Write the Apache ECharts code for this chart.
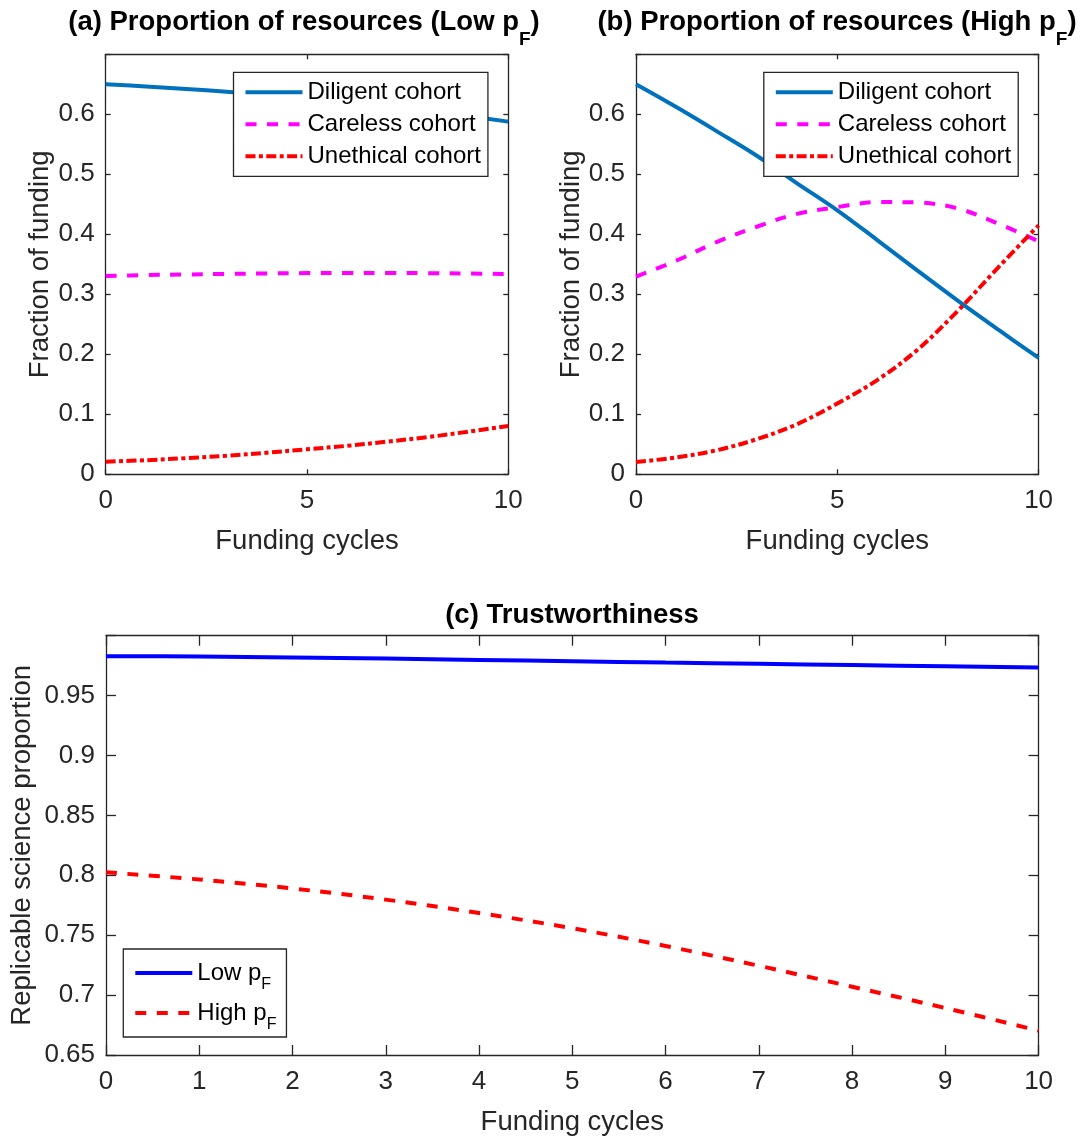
<!DOCTYPE html>
<html>
<head>
<meta charset="utf-8">
<script src="https://cdn.jsdelivr.net/npm/echarts@6/dist/echarts.min.js"></script>
<style>html,body{margin:0;padding:0;background:#fff}#chart{width:1080px;height:1138px}</style>
</head>
<body>
<div id="chart"></div>
<script>
// ---------------- data ----------------
const cycles = [0, 1, 2, 3, 4, 5, 6, 7, 8, 9, 10];

// (a) Low pF
const lowDiligent  = [0.650, 0.6464, 0.6422, 0.6375, 0.6322, 0.6263, 0.6198, 0.6127, 0.6050, 0.5968, 0.5878];
const lowCareless  = [0.3305, 0.332, 0.333, 0.334, 0.3348, 0.3353, 0.3355, 0.3355, 0.3352, 0.3346, 0.3338];
const lowUnethical = [0.021, 0.0235, 0.027, 0.031, 0.036, 0.0417, 0.0475, 0.0545, 0.062, 0.071, 0.0805];

// (b) High pF
const highDiligent  = [0.650, 0.612, 0.572, 0.531, 0.485, 0.440, 0.390, 0.339, 0.289, 0.241, 0.194];
const highCareless  = [0.3296, 0.356, 0.387, 0.4126, 0.434, 0.4454, 0.4538, 0.453, 0.443, 0.4176, 0.3886];
const highUnethical = [0.0206, 0.028, 0.040, 0.0585, 0.0835, 0.118, 0.1575, 0.208, 0.273, 0.345, 0.415];

// (c) Trustworthiness
const trustLow  = [0.9829, 0.9826, 0.9818, 0.9809, 0.9798, 0.9787, 0.9776, 0.9766, 0.9755, 0.9745, 0.9734];
const trustHigh = [0.8025, 0.7965, 0.789, 0.7797, 0.7685, 0.7558, 0.741, 0.7245, 0.707, 0.6892, 0.6703];

// tick labels
const xTicksAB = [0, 5, 10];
const yTicksAB = [0, 0.1, 0.2, 0.3, 0.4, 0.5, 0.6];
const xTicksC  = [0, 1, 2, 3, 4, 5, 6, 7, 8, 9, 10];
const yTicksC  = [0.65, 0.7, 0.75, 0.8, 0.85, 0.9, 0.95];

// ---------------- styling ----------------
const FONT = "'Liberation Sans', Arial, Helvetica, sans-serif";
const AX = '#262626';
const C_DIL = '#0072BD', C_CARE = '#FF00FF', C_UNE = '#FF0000', C_LOW = '#0000FF', C_HIGH = '#FF0000';
const LW = 4;
const DASH = [11, 10.5];
const DASHDOT = [10, 3.4, 4, 3.4];

function pairs(xs, ys) { return xs.map((x, i) => [x, ys[i]]); }
function fmt(ticks) {
  return function (v) {
    for (const t of ticks) { if (Math.abs(t - v) < 1e-7) return String(t); }
    return '';
  };
}

const grids = [
  { left: 105.7, top: 54.3, width: 402.6, height: 420 },
  { left: 636,   top: 54.3, width: 402.6, height: 420 },
  { left: 105.7, top: 635.7, width: 932.9, height: 419.3 }
];

function baseAxis(gi, min, max, interval, tickLen) {
  return {
    gridIndex: gi, type: 'value', min: min, max: max, interval: interval,
    splitLine: { show: false },
    axisLine: { show: true, onZero: false, lineStyle: { color: AX, width: 1.3 } },
    axisTick: { show: true, inside: true, length: tickLen, lineStyle: { color: AX, width: 1.3 } }
  };
}
function xAxes(gi, min, max, interval, ticks, tickLen, name) {
  return [
    Object.assign(baseAxis(gi, min, max, interval, tickLen), {
      position: 'bottom',
      axisLabel: { show: true, formatter: fmt(ticks), fontSize: 26, color: AX, fontFamily: FONT, margin: 14, showMinLabel: true, showMaxLabel: true, hideOverlap: false },
      name: name, nameLocation: 'middle', nameGap: 53, nameMoveOverlap: false,
      nameTextStyle: { fontSize: 27.5, color: AX, fontFamily: FONT }
    }),
    Object.assign(baseAxis(gi, min, max, interval, tickLen), { position: 'top', axisLabel: { show: false } })
  ];
}
function yAxes(gi, min, max, interval, ticks, tickLen, name, gap) {
  return [
    Object.assign(baseAxis(gi, min, max, interval, tickLen), {
      position: 'left',
      axisLabel: { show: true, formatter: fmt(ticks), fontSize: 26, color: AX, fontFamily: FONT, margin: 11, showMinLabel: true, showMaxLabel: true, hideOverlap: false },
      name: name, nameLocation: 'middle', nameGap: gap, nameMoveOverlap: false,
      nameTextStyle: { fontSize: 27.5, color: AX, fontFamily: FONT }
    }),
    Object.assign(baseAxis(gi, min, max, interval, tickLen), { position: 'right', axisLabel: { show: false } })
  ];
}

function line(name, xi, yi, xs, ys, color, dash) {
  return {
    name: name, type: 'line', xAxisIndex: xi, yAxisIndex: yi,
    data: pairs(xs, ys), smooth: 0.35, symbol: 'none', showSymbol: false,
    lineStyle: { color: color, width: LW, type: dash || 'solid', cap: 'butt' },
    itemStyle: { color: color },
    emphasis: { disabled: true }
  };
}

const subRichTitle = { sub: { fontSize: 19, fontWeight: 'bold', fontFamily: FONT, color: '#000', lineHeight: 20, padding: [35, 0, 0, 0] } };
function titleAt(text, cx, cy) {
  return {
    text: text, left: cx, top: cy, textAlign: 'center', textVerticalAlign: 'middle', padding: 0,
    textStyle: { fontSize: 27.5, fontWeight: 'bold', color: '#000', fontFamily: FONT, lineHeight: 28, rich: subRichTitle }
  };
}

const legendText = { fontSize: 24, color: '#000', fontFamily: FONT, lineHeight: 32 };
const legendBase = {
  orient: 'vertical', itemWidth: 57, itemHeight: 0.1, itemGap: 0, selectedMode: false,
  borderColor: AX, borderWidth: 1.3, backgroundColor: '#fff', borderRadius: 0,
  itemStyle: { color: 'rgba(0,0,0,0)', borderWidth: 0, opacity: 0 },
  lineStyle: { width: LW }
};

const option = {
  animation: false,
  backgroundColor: '#fff',
  title: [
    titleAt('(a) Proportion of resources (Low p{sub|F})', 304, 22),
    titleAt('(b) Proportion of resources (High p{sub|F})', 837, 22),
    titleAt('(c) Trustworthiness', 572, 615)
  ],
  grid: grids,
  xAxis: [].concat(
    xAxes(0, 0, 10, 5, xTicksAB, 5, 'Funding cycles'),
    xAxes(1, 0, 10, 5, xTicksAB, 5, 'Funding cycles'),
    xAxes(2, 0, 10, 1, xTicksC, 10, 'Funding cycles')
  ),
  yAxis: [].concat(
    yAxes(0, 0, 0.7, 0.1, yTicksAB, 5, 'Fraction of funding', 51),
    yAxes(1, 0, 0.7, 0.1, yTicksAB, 5, 'Fraction of funding', 51),
    yAxes(2, 0.65, 1.0, 0.05, yTicksC, 10, 'Replicable science proportion', 70)
  ),
  legend: [
    Object.assign({}, legendBase, {
      left: 233.5, top: 72.3, padding: [4, 7, 4, 10],
      data: ['Diligent cohort', 'Careless cohort', 'Unethical cohort'],
      textStyle: legendText
    }),
    Object.assign({}, legendBase, {
      left: 763.8, top: 72.3, padding: [4, 7, 4, 10],
      data: ['Diligent cohort', 'Careless cohort', 'Unethical cohort'],
      textStyle: legendText
    }),
    Object.assign({}, legendBase, {
      left: 123.3, top: 949, padding: [4, 10, 4, 10],
      data: ['Low pF', 'High pF'],
      formatter: function (n) { return n.replace('pF', 'p{sub|F}'); },
      textStyle: { fontSize: 24, color: '#000', fontFamily: FONT, lineHeight: 40,
        rich: { sub: { fontSize: 16, color: '#000', fontFamily: FONT, lineHeight: 16, padding: [24, 0, 0, 0] } } }
    })
  ],
  series: [
    line('Diligent cohort', 0, 0, cycles, lowDiligent, C_DIL),
    line('Careless cohort', 0, 0, cycles, lowCareless, C_CARE, DASH),
    line('Unethical cohort', 0, 0, cycles, lowUnethical, C_UNE, DASHDOT),
    line('Diligent cohort', 2, 2, cycles, highDiligent, C_DIL),
    line('Careless cohort', 2, 2, cycles, highCareless, C_CARE, DASH),
    line('Unethical cohort', 2, 2, cycles, highUnethical, C_UNE, DASHDOT),
    line('Low pF', 4, 4, cycles, trustLow, C_LOW),
    line('High pF', 4, 4, cycles, trustHigh, C_HIGH, DASH)
  ]
};

const chart = echarts.init(document.getElementById('chart'), null, { renderer: 'canvas' });
chart.setOption(option);
</script>
</body>
</html>
